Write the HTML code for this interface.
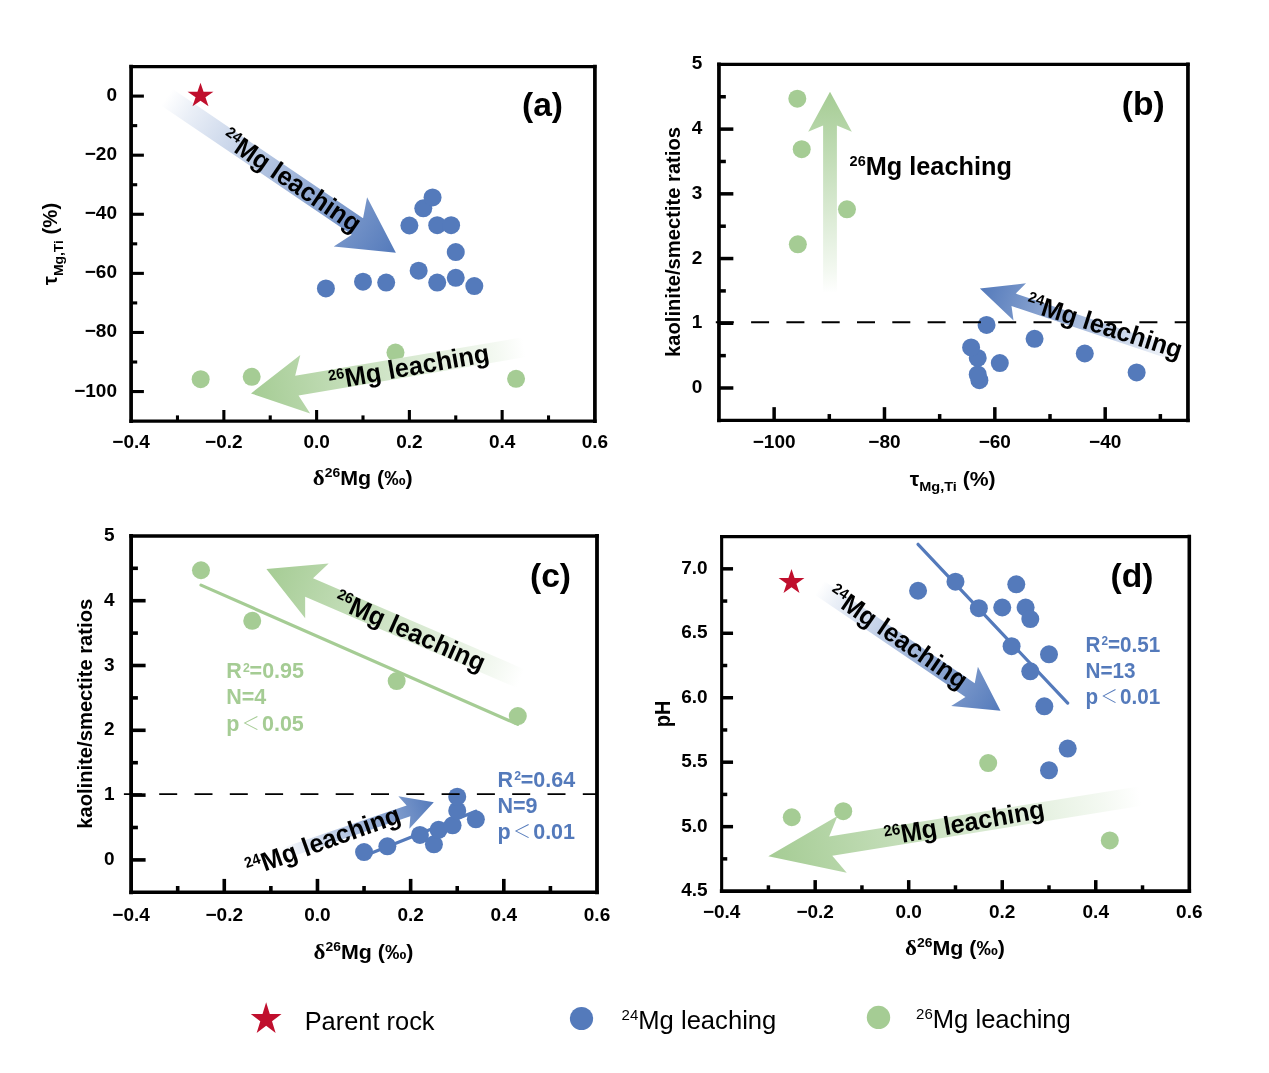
<!DOCTYPE html>
<html><head><meta charset="utf-8"><title>Mg isotope leaching figure</title>
<style>
html,body{margin:0;padding:0;background:#fff;}
svg{display:block;font-family:"Liberation Sans", sans-serif;}
.ax{stroke:#000;stroke-width:3.7;stroke-linecap:butt;stroke-linejoin:miter;}
.dash{stroke:#000;stroke-width:1.9;stroke-dasharray:18 17.3;}
.tk{font-size:19px;font-weight:bold;fill:#000;}
.at{font-size:20px;font-weight:bold;fill:#000;}
.pl{font-size:32px;font-weight:bold;fill:#000;}
.lt{font-family:"Liberation Sans","Noto Sans CJK SC",sans-serif;font-weight:300;}
</style></head><body>
<svg width="1269" height="1073" viewBox="0 0 1269 1073">
<rect width="1269" height="1073" fill="#fff"/>
<defs><linearGradient id="ag1" gradientUnits="userSpaceOnUse" x1="166.72" y1="97.12" x2="395.90" y2="252.70"><stop offset="0.000" stop-color="#FFFFFF"/><stop offset="0.100" stop-color="#EAEFF7"/><stop offset="1.000" stop-color="#547ABB"/></linearGradient><linearGradient id="ag2" gradientUnits="userSpaceOnUse" x1="524.12" y1="347.21" x2="251.00" y2="393.40"><stop offset="0.000" stop-color="#FFFFFF"/><stop offset="0.100" stop-color="#F4F9F2"/><stop offset="1.000" stop-color="#A5CC94"/></linearGradient><linearGradient id="ag3" gradientUnits="userSpaceOnUse" x1="830.00" y1="292.80" x2="830.00" y2="91.70"><stop offset="0.000" stop-color="#FFFFFF"/><stop offset="0.100" stop-color="#F4F9F2"/><stop offset="1.000" stop-color="#A5CC94"/></linearGradient><linearGradient id="ag4" gradientUnits="userSpaceOnUse" x1="1180.74" y1="356.09" x2="979.90" y2="288.50"><stop offset="0.000" stop-color="#FFFFFF"/><stop offset="0.100" stop-color="#EAEFF7"/><stop offset="1.000" stop-color="#547ABB"/></linearGradient><linearGradient id="ag5" gradientUnits="userSpaceOnUse" x1="520.81" y1="678.67" x2="266.40" y2="569.10"><stop offset="0.000" stop-color="#FFFFFF"/><stop offset="0.100" stop-color="#F4F9F2"/><stop offset="1.000" stop-color="#A5CC94"/></linearGradient><linearGradient id="ag6" gradientUnits="userSpaceOnUse" x1="283.02" y1="853.63" x2="433.80" y2="802.30"><stop offset="0.000" stop-color="#FFFFFF"/><stop offset="0.100" stop-color="#EAEFF7"/><stop offset="1.000" stop-color="#547ABB"/></linearGradient><linearGradient id="ag7" gradientUnits="userSpaceOnUse" x1="819.42" y1="587.83" x2="1000.50" y2="710.70"><stop offset="0.000" stop-color="#FFFFFF"/><stop offset="0.100" stop-color="#EAEFF7"/><stop offset="1.000" stop-color="#547ABB"/></linearGradient><linearGradient id="ag8" gradientUnits="userSpaceOnUse" x1="1140.17" y1="796.07" x2="768.30" y2="856.30"><stop offset="0.000" stop-color="#FFFFFF"/><stop offset="0.100" stop-color="#F4F9F2"/><stop offset="1.000" stop-color="#A5CC94"/></linearGradient></defs>
<circle cx="325.90" cy="288.44" r="9.00" fill="#547ABB"/>
<circle cx="363.00" cy="281.64" r="9.00" fill="#547ABB"/>
<circle cx="386.19" cy="282.53" r="9.00" fill="#547ABB"/>
<circle cx="409.38" cy="225.51" r="9.00" fill="#547ABB"/>
<circle cx="418.66" cy="270.71" r="9.00" fill="#547ABB"/>
<circle cx="423.29" cy="208.37" r="9.00" fill="#547ABB"/>
<circle cx="432.57" cy="197.44" r="9.00" fill="#547ABB"/>
<circle cx="437.21" cy="225.21" r="9.00" fill="#547ABB"/>
<circle cx="437.21" cy="282.53" r="9.00" fill="#547ABB"/>
<circle cx="451.12" cy="225.21" r="9.00" fill="#547ABB"/>
<circle cx="455.76" cy="252.10" r="9.00" fill="#547ABB"/>
<circle cx="455.76" cy="277.80" r="9.00" fill="#547ABB"/>
<circle cx="474.31" cy="286.08" r="9.00" fill="#547ABB"/>
<circle cx="200.67" cy="379.14" r="9.00" fill="#A5CC94"/>
<circle cx="251.69" cy="376.78" r="9.00" fill="#A5CC94"/>
<circle cx="395.47" cy="352.55" r="9.00" fill="#A5CC94"/>
<circle cx="516.05" cy="378.85" r="9.00" fill="#A5CC94"/>
<polygon points="395.90,252.70 367.08,197.24 363.04,218.31 172.33,88.85 161.10,105.40 351.81,234.86 333.71,246.38" fill="url(#ag1)"/>
<polygon points="251.00,393.40 310.18,413.51 298.52,395.51 525.79,357.07 522.45,337.35 295.18,375.79 300.28,354.94" fill="url(#ag2)"/>
<polygon points="200.50,82.80 203.55,91.78 213.43,91.78 205.44,97.33 208.49,106.32 200.50,100.77 192.51,106.32 195.56,97.33 187.57,91.78 197.45,91.78" fill="#C00F2D"/>
<text transform="translate(219.46,142.18) rotate(34.20) scale(1,1.035)" font-size="25.3" font-weight="bold" fill="#000"><tspan font-size="14.5" dy="-8.9">24</tspan><tspan dy="8.9">Mg leaching</tspan></text>
<text transform="translate(330.65,389.69) rotate(-10.00) scale(1,1.035)" font-size="25.3" font-weight="bold" fill="#000"><tspan font-size="14.5" dy="-8.9">26</tspan><tspan dy="8.9">Mg leaching</tspan></text>
<line x1="223.86" y1="421.10" x2="223.86" y2="410.00" class="ax" style="stroke-width:3.10"/>
<line x1="316.62" y1="421.10" x2="316.62" y2="410.00" class="ax" style="stroke-width:3.10"/>
<line x1="409.38" y1="421.10" x2="409.38" y2="410.00" class="ax" style="stroke-width:3.10"/>
<line x1="502.14" y1="421.10" x2="502.14" y2="410.00" class="ax" style="stroke-width:3.10"/>
<line x1="177.48" y1="421.10" x2="177.48" y2="415.40" class="ax" style="stroke-width:3.10"/>
<line x1="270.24" y1="421.10" x2="270.24" y2="415.40" class="ax" style="stroke-width:3.10"/>
<line x1="363.00" y1="421.10" x2="363.00" y2="415.40" class="ax" style="stroke-width:3.10"/>
<line x1="455.76" y1="421.10" x2="455.76" y2="415.40" class="ax" style="stroke-width:3.10"/>
<line x1="548.52" y1="421.10" x2="548.52" y2="415.40" class="ax" style="stroke-width:3.10"/>
<line x1="131.10" y1="96.10" x2="143.90" y2="96.10" class="ax" style="stroke-width:3.10"/>
<line x1="131.10" y1="155.19" x2="143.90" y2="155.19" class="ax" style="stroke-width:3.10"/>
<line x1="131.10" y1="214.28" x2="143.90" y2="214.28" class="ax" style="stroke-width:3.10"/>
<line x1="131.10" y1="273.37" x2="143.90" y2="273.37" class="ax" style="stroke-width:3.10"/>
<line x1="131.10" y1="332.46" x2="143.90" y2="332.46" class="ax" style="stroke-width:3.10"/>
<line x1="131.10" y1="391.55" x2="143.90" y2="391.55" class="ax" style="stroke-width:3.10"/>
<line x1="131.10" y1="125.64" x2="137.20" y2="125.64" class="ax" style="stroke-width:3.10"/>
<line x1="131.10" y1="184.73" x2="137.20" y2="184.73" class="ax" style="stroke-width:3.10"/>
<line x1="131.10" y1="243.83" x2="137.20" y2="243.83" class="ax" style="stroke-width:3.10"/>
<line x1="131.10" y1="302.92" x2="137.20" y2="302.92" class="ax" style="stroke-width:3.10"/>
<line x1="131.10" y1="362.01" x2="137.20" y2="362.01" class="ax" style="stroke-width:3.10"/>
<line x1="131.10" y1="66.55" x2="131.10" y2="421.10" class="ax" style="stroke-width:3.70;stroke-linecap:square"/>
<line x1="594.90" y1="66.55" x2="594.90" y2="421.10" class="ax" style="stroke-width:3.70;stroke-linecap:square"/>
<line x1="131.10" y1="66.55" x2="594.90" y2="66.55" class="ax" style="stroke-width:3.20;stroke-linecap:square"/>
<line x1="131.10" y1="421.10" x2="594.90" y2="421.10" class="ax" style="stroke-width:3.40;stroke-linecap:square"/>
<text x="131.10" y="448.40" class="tk" text-anchor="middle">−0.4</text>
<text x="223.86" y="448.40" class="tk" text-anchor="middle">−0.2</text>
<text x="316.62" y="448.40" class="tk" text-anchor="middle">0.0</text>
<text x="409.38" y="448.40" class="tk" text-anchor="middle">0.2</text>
<text x="502.14" y="448.40" class="tk" text-anchor="middle">0.4</text>
<text x="594.90" y="448.40" class="tk" text-anchor="middle">0.6</text>
<text x="117.00" y="101.10" class="tk" text-anchor="end">0</text>
<text x="117.00" y="160.19" class="tk" text-anchor="end">−20</text>
<text x="117.00" y="219.28" class="tk" text-anchor="end">−40</text>
<text x="117.00" y="278.37" class="tk" text-anchor="end">−60</text>
<text x="117.00" y="337.46" class="tk" text-anchor="end">−80</text>
<text x="117.00" y="396.55" class="tk" text-anchor="end">−100</text>
<text transform="translate(542.5,115.8) scale(1.05,1.02)" class="pl" text-anchor="middle">(a)</text>
<circle cx="979.38" cy="380.22" r="9.00" fill="#547ABB"/>
<circle cx="977.73" cy="374.40" r="9.00" fill="#547ABB"/>
<circle cx="999.80" cy="363.07" r="9.00" fill="#547ABB"/>
<circle cx="1136.64" cy="372.46" r="9.00" fill="#547ABB"/>
<circle cx="977.73" cy="357.90" r="9.00" fill="#547ABB"/>
<circle cx="1084.77" cy="353.50" r="9.00" fill="#547ABB"/>
<circle cx="1034.56" cy="338.81" r="9.00" fill="#547ABB"/>
<circle cx="986.56" cy="324.89" r="9.00" fill="#547ABB"/>
<circle cx="971.11" cy="347.41" r="9.00" fill="#547ABB"/>
<polygon points="830.00,91.70 808.17,131.63 823.10,125.46 823.10,292.80 836.90,292.80 836.90,125.46 851.83,131.63" fill="url(#ag3)"/>
<circle cx="797.30" cy="98.70" r="9.00" fill="#A5CC94"/>
<circle cx="801.71" cy="149.18" r="9.00" fill="#A5CC94"/>
<circle cx="846.96" cy="209.37" r="9.00" fill="#A5CC94"/>
<circle cx="797.85" cy="244.32" r="9.00" fill="#A5CC94"/>
<line x1="715.80" y1="322.27" x2="1187.95" y2="322.27" class="dash"/>
<polygon points="979.90,288.50 1013.53,320.50 1011.51,306.10 1178.63,362.34 1182.84,349.83 1015.72,293.59 1026.03,283.34" fill="url(#ag4)"/>
<text transform="translate(849.58,175.20) rotate(0.00) scale(1,1.035)" font-size="25.3" font-weight="bold" fill="#000"><tspan font-size="14.5" dy="-8.9">26</tspan><tspan dy="8.9">Mg leaching</tspan></text>
<text transform="translate(1024.41,309.81) rotate(17.60) scale(1,1.035)" font-size="25.3" font-weight="bold" fill="#000"><tspan font-size="14.5" dy="-8.9">24</tspan><tspan dy="8.9">Mg leaching</tspan></text>
<line x1="774.13" y1="420.35" x2="774.13" y2="407.15" class="ax" style="stroke-width:3.50"/>
<line x1="884.48" y1="420.35" x2="884.48" y2="407.15" class="ax" style="stroke-width:3.50"/>
<line x1="994.83" y1="420.35" x2="994.83" y2="407.15" class="ax" style="stroke-width:3.50"/>
<line x1="1105.19" y1="420.35" x2="1105.19" y2="407.15" class="ax" style="stroke-width:3.50"/>
<line x1="829.30" y1="420.35" x2="829.30" y2="414.05" class="ax" style="stroke-width:3.50"/>
<line x1="939.66" y1="420.35" x2="939.66" y2="414.05" class="ax" style="stroke-width:3.50"/>
<line x1="1050.01" y1="420.35" x2="1050.01" y2="414.05" class="ax" style="stroke-width:3.50"/>
<line x1="1160.36" y1="420.35" x2="1160.36" y2="414.05" class="ax" style="stroke-width:3.50"/>
<line x1="718.95" y1="387.99" x2="733.35" y2="387.99" class="ax" style="stroke-width:3.50"/>
<line x1="718.95" y1="323.27" x2="733.35" y2="323.27" class="ax" style="stroke-width:3.50"/>
<line x1="718.95" y1="258.55" x2="733.35" y2="258.55" class="ax" style="stroke-width:3.50"/>
<line x1="718.95" y1="193.84" x2="733.35" y2="193.84" class="ax" style="stroke-width:3.50"/>
<line x1="718.95" y1="129.12" x2="733.35" y2="129.12" class="ax" style="stroke-width:3.50"/>
<line x1="718.95" y1="355.63" x2="725.85" y2="355.63" class="ax" style="stroke-width:3.50"/>
<line x1="718.95" y1="290.91" x2="725.85" y2="290.91" class="ax" style="stroke-width:3.50"/>
<line x1="718.95" y1="226.20" x2="725.85" y2="226.20" class="ax" style="stroke-width:3.50"/>
<line x1="718.95" y1="161.48" x2="725.85" y2="161.48" class="ax" style="stroke-width:3.50"/>
<line x1="718.95" y1="96.76" x2="725.85" y2="96.76" class="ax" style="stroke-width:3.50"/>
<line x1="718.95" y1="64.40" x2="718.95" y2="420.35" class="ax" style="stroke-width:3.70;stroke-linecap:square"/>
<line x1="1187.95" y1="64.40" x2="1187.95" y2="420.35" class="ax" style="stroke-width:3.70;stroke-linecap:square"/>
<line x1="718.95" y1="64.40" x2="1187.95" y2="64.40" class="ax" style="stroke-width:3.40;stroke-linecap:square"/>
<line x1="718.95" y1="420.35" x2="1187.95" y2="420.35" class="ax" style="stroke-width:3.40;stroke-linecap:square"/>
<text x="774.13" y="448.40" class="tk" text-anchor="middle">−100</text>
<text x="884.48" y="448.40" class="tk" text-anchor="middle">−80</text>
<text x="994.83" y="448.40" class="tk" text-anchor="middle">−60</text>
<text x="1105.19" y="448.40" class="tk" text-anchor="middle">−40</text>
<text x="702.30" y="392.99" class="tk" text-anchor="end">0</text>
<text x="702.30" y="328.27" class="tk" text-anchor="end">1</text>
<text x="702.30" y="263.55" class="tk" text-anchor="end">2</text>
<text x="702.30" y="198.84" class="tk" text-anchor="end">3</text>
<text x="702.30" y="134.12" class="tk" text-anchor="end">4</text>
<text x="702.30" y="69.40" class="tk" text-anchor="end">5</text>
<text transform="translate(1143.3,114.8) scale(1.05,1.02)" class="pl" text-anchor="middle">(b)</text>
<line x1="200.99" y1="585.09" x2="517.80" y2="724.33" stroke="#A5CC94" stroke-width="3.2" stroke-linecap="round"/>
<circle cx="200.99" cy="570.24" r="9.00" fill="#A5CC94"/>
<circle cx="252.23" cy="620.79" r="9.00" fill="#A5CC94"/>
<circle cx="396.66" cy="681.05" r="9.00" fill="#A5CC94"/>
<circle cx="517.80" cy="716.04" r="9.00" fill="#A5CC94"/>
<line x1="364.05" y1="855.89" x2="475.87" y2="811.27" stroke="#547ABB" stroke-width="3.2" stroke-linecap="round"/>
<circle cx="364.05" cy="852.12" r="9.00" fill="#547ABB"/>
<circle cx="387.35" cy="846.29" r="9.00" fill="#547ABB"/>
<circle cx="419.96" cy="834.95" r="9.00" fill="#547ABB"/>
<circle cx="433.93" cy="844.35" r="9.00" fill="#547ABB"/>
<circle cx="438.59" cy="829.77" r="9.00" fill="#547ABB"/>
<circle cx="452.57" cy="825.36" r="9.00" fill="#547ABB"/>
<circle cx="457.23" cy="810.65" r="9.00" fill="#547ABB"/>
<circle cx="457.23" cy="796.72" r="9.00" fill="#547ABB"/>
<circle cx="475.87" cy="819.27" r="9.00" fill="#547ABB"/>
<line x1="123.90" y1="794.10" x2="597.00" y2="794.10" class="dash"/>
<polygon points="266.40,569.10 305.17,618.13 305.15,596.68 516.85,687.85 524.77,669.48 313.06,578.31 328.66,563.58" fill="url(#ag5)"/>
<polygon points="433.80,802.30 398.36,796.33 406.64,805.47 281.17,848.19 284.88,859.07 410.34,816.36 409.37,828.66" fill="url(#ag6)"/>
<text transform="translate(332.42,606.15) rotate(24.00) scale(1,1.035)" font-size="25.3" font-weight="bold" fill="#000"><tspan font-size="14.5" dy="-8.9">26</tspan><tspan dy="8.9">Mg leaching</tspan></text>
<text transform="translate(249.63,876.94) rotate(-19.80) scale(1,1.035)" font-size="25.3" font-weight="bold" fill="#000"><tspan font-size="14.5" dy="-8.9">24</tspan><tspan dy="8.9">Mg leaching</tspan></text>
<text transform="translate(226.20,678.30) scale(1.025,1.03)" font-size="21.0" font-weight="bold" fill="#A5CC94">R<tspan font-size="12" dx="1.2" dy="-6.2">2</tspan><tspan dx="-0.2" dy="6.2">=0.95</tspan></text>
<text transform="translate(226.20,704.40) scale(1.025,1.03)" font-size="21.0" font-weight="bold" fill="#A5CC94">N=4</text>
<text transform="translate(226.20,730.50) scale(1.025,1.03)" font-size="21.0" font-weight="bold" fill="#A5CC94">p<tspan class="lt" font-size="17.5" dx="2.3" dy="-0.6">＜</tspan><tspan dx="2.3" dy="0.6">0.05</tspan></text>
<text transform="translate(497.40,786.70) scale(1.025,1.03)" font-size="21.0" font-weight="bold" fill="#547ABB">R<tspan font-size="12" dx="1.2" dy="-6.2">2</tspan><tspan dx="-0.2" dy="6.2">=0.64</tspan></text>
<text transform="translate(497.40,812.80) scale(1.025,1.03)" font-size="21.0" font-weight="bold" fill="#547ABB">N=9</text>
<text transform="translate(497.40,838.90) scale(1.025,1.03)" font-size="21.0" font-weight="bold" fill="#547ABB">p<tspan class="lt" font-size="17.5" dx="2.3" dy="-0.6">＜</tspan><tspan dx="2.3" dy="0.6">0.01</tspan></text>
<line x1="224.28" y1="892.30" x2="224.28" y2="878.90" class="ax" style="stroke-width:3.60"/>
<line x1="317.46" y1="892.30" x2="317.46" y2="878.90" class="ax" style="stroke-width:3.60"/>
<line x1="410.64" y1="892.30" x2="410.64" y2="878.90" class="ax" style="stroke-width:3.60"/>
<line x1="503.82" y1="892.30" x2="503.82" y2="878.90" class="ax" style="stroke-width:3.60"/>
<line x1="177.69" y1="892.30" x2="177.69" y2="886.00" class="ax" style="stroke-width:3.60"/>
<line x1="270.87" y1="892.30" x2="270.87" y2="886.00" class="ax" style="stroke-width:3.60"/>
<line x1="364.05" y1="892.30" x2="364.05" y2="886.00" class="ax" style="stroke-width:3.60"/>
<line x1="457.23" y1="892.30" x2="457.23" y2="886.00" class="ax" style="stroke-width:3.60"/>
<line x1="550.41" y1="892.30" x2="550.41" y2="886.00" class="ax" style="stroke-width:3.60"/>
<line x1="131.10" y1="859.90" x2="145.60" y2="859.90" class="ax" style="stroke-width:3.60"/>
<line x1="131.10" y1="795.10" x2="145.60" y2="795.10" class="ax" style="stroke-width:3.60"/>
<line x1="131.10" y1="730.30" x2="145.60" y2="730.30" class="ax" style="stroke-width:3.60"/>
<line x1="131.10" y1="665.50" x2="145.60" y2="665.50" class="ax" style="stroke-width:3.60"/>
<line x1="131.10" y1="600.70" x2="145.60" y2="600.70" class="ax" style="stroke-width:3.60"/>
<line x1="131.10" y1="827.50" x2="137.90" y2="827.50" class="ax" style="stroke-width:3.60"/>
<line x1="131.10" y1="762.70" x2="137.90" y2="762.70" class="ax" style="stroke-width:3.60"/>
<line x1="131.10" y1="697.90" x2="137.90" y2="697.90" class="ax" style="stroke-width:3.60"/>
<line x1="131.10" y1="633.10" x2="137.90" y2="633.10" class="ax" style="stroke-width:3.60"/>
<line x1="131.10" y1="568.30" x2="137.90" y2="568.30" class="ax" style="stroke-width:3.60"/>
<line x1="131.10" y1="535.90" x2="131.10" y2="892.30" class="ax" style="stroke-width:3.80;stroke-linecap:square"/>
<line x1="597.00" y1="535.90" x2="597.00" y2="892.30" class="ax" style="stroke-width:3.80;stroke-linecap:square"/>
<line x1="131.10" y1="535.90" x2="597.00" y2="535.90" class="ax" style="stroke-width:3.50;stroke-linecap:square"/>
<line x1="131.10" y1="892.30" x2="597.00" y2="892.30" class="ax" style="stroke-width:3.50;stroke-linecap:square"/>
<text x="131.10" y="921.00" class="tk" text-anchor="middle">−0.4</text>
<text x="224.28" y="921.00" class="tk" text-anchor="middle">−0.2</text>
<text x="317.46" y="921.00" class="tk" text-anchor="middle">0.0</text>
<text x="410.64" y="921.00" class="tk" text-anchor="middle">0.2</text>
<text x="503.82" y="921.00" class="tk" text-anchor="middle">0.4</text>
<text x="597.00" y="921.00" class="tk" text-anchor="middle">0.6</text>
<text x="114.50" y="864.90" class="tk" text-anchor="end">0</text>
<text x="114.50" y="800.10" class="tk" text-anchor="end">1</text>
<text x="114.50" y="735.30" class="tk" text-anchor="end">2</text>
<text x="114.50" y="670.50" class="tk" text-anchor="end">3</text>
<text x="114.50" y="605.70" class="tk" text-anchor="end">4</text>
<text x="114.50" y="540.90" class="tk" text-anchor="end">5</text>
<text transform="translate(550.5,587) scale(1.05,1.02)" class="pl" text-anchor="middle">(c)</text>
<line x1="918.06" y1="544.32" x2="1067.71" y2="703.10" stroke="#547ABB" stroke-width="3.2" stroke-linecap="round"/>
<circle cx="918.06" cy="590.74" r="9.00" fill="#547ABB"/>
<circle cx="955.47" cy="581.72" r="9.00" fill="#547ABB"/>
<circle cx="978.86" cy="608.14" r="9.00" fill="#547ABB"/>
<circle cx="1002.24" cy="607.50" r="9.00" fill="#547ABB"/>
<circle cx="1011.59" cy="646.17" r="9.00" fill="#547ABB"/>
<circle cx="1016.27" cy="584.30" r="9.00" fill="#547ABB"/>
<circle cx="1025.62" cy="607.50" r="9.00" fill="#547ABB"/>
<circle cx="1030.30" cy="619.10" r="9.00" fill="#547ABB"/>
<circle cx="1030.30" cy="671.31" r="9.00" fill="#547ABB"/>
<circle cx="1044.33" cy="706.37" r="9.00" fill="#547ABB"/>
<circle cx="1049.00" cy="654.29" r="9.00" fill="#547ABB"/>
<circle cx="1049.00" cy="770.31" r="9.00" fill="#547ABB"/>
<circle cx="1067.71" cy="748.53" r="9.00" fill="#547ABB"/>
<circle cx="791.80" cy="817.24" r="9.00" fill="#A5CC94"/>
<circle cx="843.24" cy="811.18" r="9.00" fill="#A5CC94"/>
<circle cx="988.21" cy="763.09" r="9.00" fill="#A5CC94"/>
<circle cx="1109.80" cy="840.44" r="9.00" fill="#A5CC94"/>
<polygon points="791.50,568.90 794.55,578.09 804.43,578.09 796.44,583.77 799.49,592.96 791.50,587.28 783.51,592.96 786.56,583.77 778.57,578.09 788.45,578.09" fill="#C00F2D"/>
<polygon points="1000.50,710.70 977.89,666.64 974.76,683.21 824.08,580.96 814.76,594.69 965.44,696.94 951.20,705.96" fill="url(#ag7)"/>
<polygon points="768.30,856.30 846.74,872.78 832.28,855.76 1141.72,805.64 1138.62,786.49 829.18,836.61 837.53,815.90" fill="url(#ag8)"/>
<text transform="translate(826.08,598.46) rotate(34.30) scale(1,1.035)" font-size="25.3" font-weight="bold" fill="#000"><tspan font-size="14.5" dy="-8.9">24</tspan><tspan dy="8.9">Mg leaching</tspan></text>
<text transform="translate(886.01,845.59) rotate(-10.00) scale(1,1.035)" font-size="25.2" font-weight="bold" fill="#000"><tspan font-size="15.0" dy="-8.8">26</tspan><tspan dy="8.8">Mg leaching</tspan></text>
<text transform="translate(1085.50,651.60) scale(0.985,1.03)" font-size="21.0" font-weight="bold" fill="#547ABB">R<tspan font-size="12" dx="1.2" dy="-6.2">2</tspan><tspan dx="-0.2" dy="6.2">=0.51</tspan></text>
<text transform="translate(1085.50,677.70) scale(0.985,1.03)" font-size="21.0" font-weight="bold" fill="#547ABB">N=13</text>
<text transform="translate(1085.50,703.80) scale(0.985,1.03)" font-size="21.0" font-weight="bold" fill="#547ABB">p<tspan class="lt" font-size="17.5" dx="2.3" dy="-0.6">＜</tspan><tspan dx="2.3" dy="0.6">0.01</tspan></text>
<line x1="815.18" y1="891.10" x2="815.18" y2="880.10" class="ax" style="stroke-width:3.50"/>
<line x1="908.71" y1="891.10" x2="908.71" y2="880.10" class="ax" style="stroke-width:3.50"/>
<line x1="1002.24" y1="891.10" x2="1002.24" y2="880.10" class="ax" style="stroke-width:3.50"/>
<line x1="1095.77" y1="891.10" x2="1095.77" y2="880.10" class="ax" style="stroke-width:3.50"/>
<line x1="768.41" y1="891.10" x2="768.41" y2="885.30" class="ax" style="stroke-width:3.50"/>
<line x1="861.94" y1="891.10" x2="861.94" y2="885.30" class="ax" style="stroke-width:3.50"/>
<line x1="955.47" y1="891.10" x2="955.47" y2="885.30" class="ax" style="stroke-width:3.50"/>
<line x1="1049.00" y1="891.10" x2="1049.00" y2="885.30" class="ax" style="stroke-width:3.50"/>
<line x1="1142.53" y1="891.10" x2="1142.53" y2="885.30" class="ax" style="stroke-width:3.50"/>
<line x1="721.65" y1="826.65" x2="733.05" y2="826.65" class="ax" style="stroke-width:3.50"/>
<line x1="721.65" y1="762.19" x2="733.05" y2="762.19" class="ax" style="stroke-width:3.50"/>
<line x1="721.65" y1="697.74" x2="733.05" y2="697.74" class="ax" style="stroke-width:3.50"/>
<line x1="721.65" y1="633.28" x2="733.05" y2="633.28" class="ax" style="stroke-width:3.50"/>
<line x1="721.65" y1="568.83" x2="733.05" y2="568.83" class="ax" style="stroke-width:3.50"/>
<line x1="721.65" y1="858.87" x2="727.25" y2="858.87" class="ax" style="stroke-width:3.50"/>
<line x1="721.65" y1="794.42" x2="727.25" y2="794.42" class="ax" style="stroke-width:3.50"/>
<line x1="721.65" y1="729.96" x2="727.25" y2="729.96" class="ax" style="stroke-width:3.50"/>
<line x1="721.65" y1="665.51" x2="727.25" y2="665.51" class="ax" style="stroke-width:3.50"/>
<line x1="721.65" y1="601.05" x2="727.25" y2="601.05" class="ax" style="stroke-width:3.50"/>
<line x1="721.65" y1="536.60" x2="721.65" y2="891.10" class="ax" style="stroke-width:3.10;stroke-linecap:square"/>
<line x1="1189.30" y1="536.60" x2="1189.30" y2="891.10" class="ax" style="stroke-width:3.60;stroke-linecap:square"/>
<line x1="721.65" y1="536.60" x2="1189.30" y2="536.60" class="ax" style="stroke-width:3.20;stroke-linecap:square"/>
<line x1="721.65" y1="891.10" x2="1189.30" y2="891.10" class="ax" style="stroke-width:3.60;stroke-linecap:square"/>
<text x="721.65" y="917.60" class="tk" text-anchor="middle">−0.4</text>
<text x="815.18" y="917.60" class="tk" text-anchor="middle">−0.2</text>
<text x="908.71" y="917.60" class="tk" text-anchor="middle">0.0</text>
<text x="1002.24" y="917.60" class="tk" text-anchor="middle">0.2</text>
<text x="1095.77" y="917.60" class="tk" text-anchor="middle">0.4</text>
<text x="1189.30" y="917.60" class="tk" text-anchor="middle">0.6</text>
<text x="707.60" y="896.10" class="tk" text-anchor="end">4.5</text>
<text x="707.60" y="831.65" class="tk" text-anchor="end">5.0</text>
<text x="707.60" y="767.19" class="tk" text-anchor="end">5.5</text>
<text x="707.60" y="702.74" class="tk" text-anchor="end">6.0</text>
<text x="707.60" y="638.28" class="tk" text-anchor="end">6.5</text>
<text x="707.60" y="573.83" class="tk" text-anchor="end">7.0</text>
<text transform="translate(1132,586.6) scale(1.05,1.02)" class="pl" text-anchor="middle">(d)</text>
<text transform="translate(362.70,485.00) scale(1.070,1)" class="at" text-anchor="middle"><tspan font-family="&quot;Liberation Serif&quot;, serif" font-size="21.5" font-weight="bold">δ</tspan><tspan font-size="13" dy="-8.3">26</tspan><tspan dy="8.3">Mg (‰)</tspan></text>
<text transform="translate(363.50,959.30) scale(1.070,1)" class="at" text-anchor="middle"><tspan font-family="&quot;Liberation Serif&quot;, serif" font-size="21.5" font-weight="bold">δ</tspan><tspan font-size="13" dy="-8.3">26</tspan><tspan dy="8.3">Mg (‰)</tspan></text>
<text transform="translate(955.00,955.00) scale(1.070,1)" class="at" text-anchor="middle"><tspan font-family="&quot;Liberation Serif&quot;, serif" font-size="21.5" font-weight="bold">δ</tspan><tspan font-size="13" dy="-8.3">26</tspan><tspan dy="8.3">Mg (‰)</tspan></text>
<text transform="translate(952.70,485.50) rotate(0) scale(1.060,1)" class="at" font-size="20.0" text-anchor="middle">τ<tspan font-size="13.7" dy="5.4">Mg,Ti</tspan><tspan dy="-5.4"> (%)</tspan></text>
<text transform="translate(57.40,244.00) rotate(-90) scale(1.015,1)" class="at" font-size="20.3" text-anchor="middle">τ<tspan font-size="13.7" dy="5.4">Mg,Ti</tspan><tspan dy="-5.4"> (%)</tspan></text>
<text transform="translate(680.3,242) rotate(-90)" class="at" style="font-size:20.2px" text-anchor="middle">kaolinite/smectite ratios</text>
<text transform="translate(92,713.8) rotate(-90)" class="at" style="font-size:20.2px" text-anchor="middle">kaolinite/smectite ratios</text>
<text transform="translate(670.0,713.9) rotate(-90) scale(1,1.12)" class="at" text-anchor="middle">pH</text>
<polygon points="266.15,1002.33 269.78,1014.06 281.51,1014.06 272.02,1021.30 275.64,1033.03 266.15,1025.78 256.66,1033.03 260.28,1021.30 250.79,1014.06 262.52,1014.06" fill="#C00F2D"/>
<text x="304.7" y="1029.7" font-size="25.4">Parent rock</text>
<circle cx="581.50" cy="1018.50" r="11.60" fill="#547ABB"/>
<text x="621.6" y="1029" font-size="25.6"><tspan font-size="15" dy="-9.3">24</tspan><tspan dy="9.3">Mg leaching</tspan></text>
<circle cx="878.50" cy="1017.40" r="11.70" fill="#A5CC94"/>
<text x="916.1" y="1027.8" font-size="25.6"><tspan font-size="15" dy="-9.3">26</tspan><tspan dy="9.3">Mg leaching</tspan></text>
</svg>
</body></html>
